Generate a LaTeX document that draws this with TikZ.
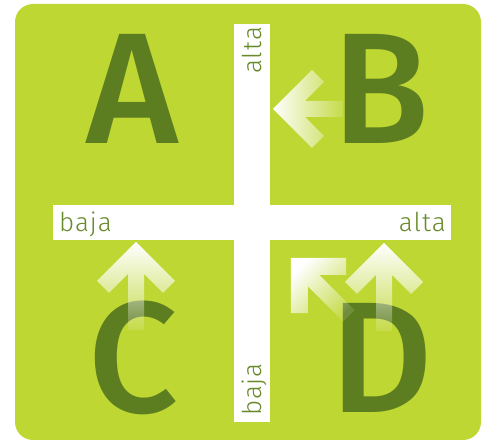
\documentclass[tikz,border=0pt]{standalone}
\usepackage{fontspec}
\usetikzlibrary{fadings}
\newfontfamily\bigfont{Fira Sans Medium}
\newfontfamily\lightfont{Fira Sans Light}[LetterSpace=4]
\definecolor{bggreen}{HTML}{BED732}
\definecolor{darkgreen}{HTML}{5C7E20}
\definecolor{labgreen}{HTML}{678A2A}
\tikzfading[name=fadeup, top color=transparent!0, bottom color=transparent!88]
\tikzset{
  bigletter/.style={font=\bigfont\fontsize{158}{158}\selectfont, text=darkgreen, inner sep=0pt, anchor=base},
  axislabel/.style={font=\lightfont\fontsize{26}{26}\selectfont, text=labgreen, inner sep=0pt},
  bar/.style={fill=white},
  chevfill/.style={fill=white, path fading=fadeup}
}
\begin{document}
\begin{tikzpicture}[x=1pt,y=-1pt]
\useasboundingbox (0,0) rectangle (483,441);
% background
\fill[bggreen, rounded corners=18pt] (15,4) rectangle (481,440);
% axes
\fill[bar] (234,24) rectangle (270,422);
\fill[bar] (53,205) rectangle (451,240);
% letters
\node[bigletter] (A) at (133,144) {A};
\node[bigletter] (B) at (381,144) {B};
\node[bigletter] (C) at (133,413) {C};
\node[bigletter] (D) at (382,413) {D};
% arrows
\begin{scope}[shift={(136,242)}]
\fill[chevfill] (0,0) -- (-39,39) -- (-27,51) -- (-8,32) -- (-8,88) -- (8,88) -- (8,32) -- (27,51) -- (39,39) -- cycle;
\end{scope}
\begin{scope}[shift={(384,243)}]
\fill[chevfill] (0,0) -- (-39,39) -- (-27,51) -- (-8,32) -- (-8,88) -- (8,88) -- (8,32) -- (27,51) -- (39,39) -- cycle;
\end{scope}
\begin{scope}[shift={(273,109)}, rotate=90]
\fill[chevfill, fading angle=90] (0,0) -- (-39,39) -- (-27,51) -- (-8,32) -- (-8,70) -- (8,70) -- (8,32) -- (27,51) -- (39,39) -- cycle;
\end{scope}
\begin{scope}[shift={(291,258)}, rotate=45]
\fill[chevfill, fading angle=45] (0,0) -- (-39,39) -- (-27,51) -- (-8,32) -- (-8,82) -- (8,82) -- (8,32) -- (27,51) -- (39,39) -- cycle;
\end{scope}
% labels
\node[axislabel, anchor=base west] (bajaL) at (59,232) {baja};
\node[axislabel, anchor=base east] (altaR) at (446,232) {alta};
\node[axislabel, anchor=base west, rotate=90] (altaT) at (261,74) {alta};
\node[axislabel, anchor=base west, rotate=90] (bajaB) at (261,416) {baja};
\end{tikzpicture}
\end{document}
